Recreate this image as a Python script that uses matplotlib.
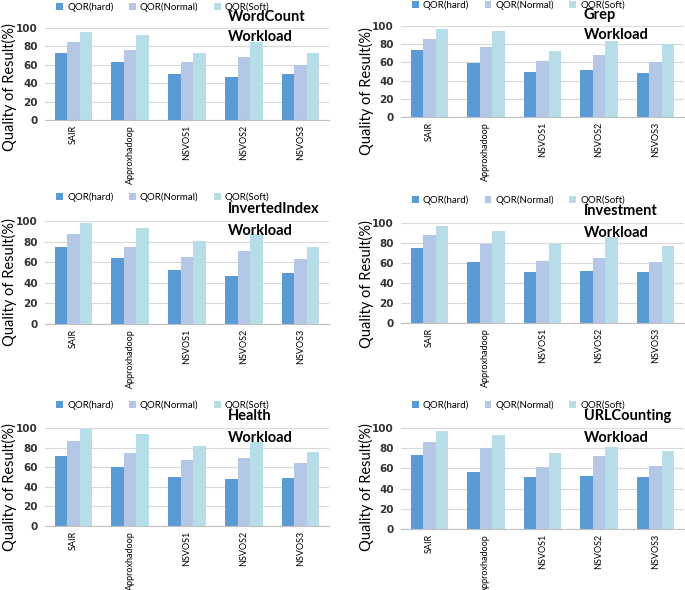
import matplotlib.pyplot as plt
import numpy as np

categories = ['SAIR', 'Approxhadoop', 'NSVOS1', 'NSVOS2', 'NSVOS3']
series = ['QOR(hard)', 'QOR(Normal)', 'QOR(Soft)']
colors = ['#5B9BD5', '#B4C7E7', '#B7DEE8']

wordcount_hard = [73, 63, 50, 47, 50]
wordcount_normal = [85, 76, 63, 69, 60]
wordcount_soft = [96, 92, 73, 85, 73]

grep_hard = [74, 59, 50, 52, 48]
grep_normal = [86, 77, 62, 68, 60]
grep_soft = [97, 94, 73, 84, 80]

inverted_hard = [75, 64, 52, 47, 50]
inverted_normal = [87, 75, 65, 71, 63]
inverted_soft = [98, 93, 81, 87, 75]

investment_hard = [75, 61, 51, 52, 51]
investment_normal = [88, 79, 62, 65, 61]
investment_soft = [97, 92, 79, 86, 77]

health_hard = [71, 60, 50, 48, 49]
health_normal = [87, 74, 67, 69, 64]
health_soft = [99, 94, 82, 86, 76]

url_hard = [73, 56, 51, 52, 51]
url_normal = [86, 80, 61, 72, 62]
url_soft = [97, 93, 75, 81, 77]

panels = [
    ('WordCount', [wordcount_hard, wordcount_normal, wordcount_soft]),
    ('Grep', [grep_hard, grep_normal, grep_soft]),
    ('InvertedIndex', [inverted_hard, inverted_normal, inverted_soft]),
    ('Investment', [investment_hard, investment_normal, investment_soft]),
    ('Health', [health_hard, health_normal, health_soft]),
    ('URLCounting', [url_hard, url_normal, url_soft]),
]

# axes boxes in pixels: left, top, right, bottom
boxes = [(45, 28, 329, 120), (401, 26, 684, 117),
         (45, 221, 329, 324), (401, 223, 684, 323),
         (45, 428, 329, 526), (401, 428, 684, 529)]
# y-label centre in pixels
label_pos = [(9, 87), (366, 91), (9, 282), (366, 284), (9, 487), (366, 487)]

W, H = 685, 590
fig = plt.figure(figsize=(W / 100, H / 100), dpi=100)

x = np.arange(len(categories))
bw = 0.22

for (name, vals), (l, t, r, b), (lx, ly) in zip(panels, boxes, label_pos):
    ax = fig.add_axes([l / W, 1 - b / H, (r - l) / W, (b - t) / H])
    for i, v in enumerate(vals):
        ax.bar(x + (i - 1) * bw, v, bw, color=colors[i], label=series[i], zorder=2)
    ax.set_xlim(-0.5, len(categories) - 0.5)
    ax.set_ylim(0, 100)
    ax.set_yticks(range(0, 101, 20))
    ax.grid(axis='y', color='#D9D9D9', linewidth=0.8, zorder=0)
    for s in ['top', 'right', 'left']:
        ax.spines[s].set_visible(False)
    ax.spines['bottom'].set_color('#BFBFBF')
    ax.tick_params(length=0)
    ax.tick_params(axis='y', pad=5)
    ax.set_xticks(x)
    ax.set_xticklabels(categories, rotation=90, fontsize=6.5, family='Lato')
    for lab in ax.get_yticklabels():
        lab.set_fontsize(7.5)
        lab.set_fontweight('bold')
        lab.set_color('#333333')
    fig.text(lx / W, 1 - ly / H, 'Quality of Result(%)', rotation=90,
             ha='center', va='center', fontsize=10.5, family='Lato')
    ax.legend(loc='center', bbox_to_anchor=(0.415, 1.23), ncol=3, frameon=False,
              prop={'family': 'Lato', 'size': 7}, handlelength=0.7,
              handleheight=0.7, handletextpad=0.4, columnspacing=1.6)
    ax.text(0.645, 1.12, name, transform=ax.transAxes, fontsize=10.5,
            fontweight='bold', family='Lato', va='center', ha='left')
    ax.text(0.645, 0.9, 'Workload', transform=ax.transAxes, fontsize=10.5,
            fontweight='bold', family='Lato', va='center', ha='left')

plt.savefig('out.png', dpi=100)
